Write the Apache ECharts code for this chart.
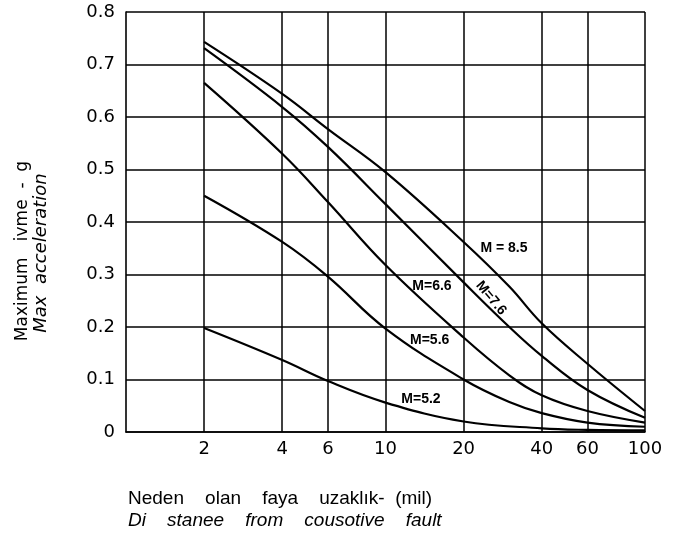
<!DOCTYPE html>
<html>
<head>
<meta charset="utf-8">
<script src="https://cdn.jsdelivr.net/npm/echarts@6/dist/echarts.min.js"></script>
<style>
html,body{margin:0;padding:0;background:#fff;}
#chart{width:674px;height:534px;}
</style>
</head>
<body>
<div id="chart"></div>
<script>
// Distance ticks (mil), log scale
const xTicks = [2, 4, 6, 10, 20, 40, 60, 100];
const yTicks = [0, 0.1, 0.2, 0.3, 0.4, 0.5, 0.6, 0.7, 0.8];

// Curves: distance (mil) and max acceleration (g)
const dist85 = [2, 4, 6, 10, 20, 30, 40, 60, 100];
const acc85  = [0.743, 0.644, 0.577, 0.495, 0.362, 0.277, 0.207, 0.13, 0.04];

const dist76 = [2, 4, 6, 10, 20, 30, 40, 60, 100];
const acc76  = [0.731, 0.619, 0.543, 0.434, 0.285, 0.20, 0.145, 0.08, 0.027];

const dist66 = [2, 4, 6, 10, 20, 30, 40, 60, 100];
const acc66  = [0.665, 0.53, 0.438, 0.318, 0.18, 0.108, 0.07, 0.04, 0.018];

const dist56 = [2, 4, 6, 10, 20, 30, 40, 60, 100];
const acc56  = [0.45, 0.362, 0.296, 0.197, 0.10, 0.057, 0.036, 0.018, 0.01];

const dist52 = [2, 4, 6, 10, 20, 40, 60, 100];
const acc52  = [0.198, 0.137, 0.097, 0.056, 0.02, 0.007, 0.004, 0.003];

// Curve labels: text, anchor (distance, g), rotation
const labelTexts = ['M = 8.5', 'M=7.6', 'M=6.6', 'M=5.6', 'M=5.2'];
const labelAt    = [[28.6, 0.350], [25.5, 0.255], [15.1, 0.278], [14.8, 0.175], [13.7, 0.063]];
const labelRot   = [0, -50, 0, 0, 0];

const curves = [
  {d: dist85, a: acc85},
  {d: dist76, a: acc76},
  {d: dist66, a: acc66},
  {d: dist56, a: acc56},
  {d: dist52, a: acc52}
];

const chart = echarts.init(document.getElementById('chart'), null, {renderer: 'canvas'});

const series = curves.map((c, i) => ({
  type: 'line',
  data: c.d.map((x, j) => [x, c.a[j]]),
  smooth: 0.4,
  showSymbol: false,
  symbol: 'none',
  lineStyle: {color: '#000', width: 2.2},
  silent: true,
  markPoint: {
    symbol: 'circle',
    symbolSize: 0,
    silent: true,
    label: {
      show: true,
      position: 'inside',
      formatter: labelTexts[i],
      color: '#000',
      fontFamily: 'Liberation Sans',
      fontWeight: 'bold',
      fontSize: 14,
      rotate: labelRot[i]
    },
    data: [{coord: labelAt[i]}]
  }
}));

const option = {
  animation: false,
  backgroundColor: '#fff',
  grid: {left: 126, right: 29, top: 12, bottom: 102},
  xAxis: {
    type: 'log',
    logBase: 10,
    min: 1,
    max: 100,
    axisLine: {show: true, lineStyle: {color: '#000', width: 1.6}},
    axisTick: {show: false, customValues: xTicks},
    axisLabel: {
      customValues: xTicks,
      color: '#000',
      fontSize: 18,
      fontFamily: 'DejaVu Sans',
      margin: 8
    },
    splitLine: {show: true, lineStyle: {color: '#000', width: 1.5}},
    minorTick: {show: false},
    minorSplitLine: {show: false}
  },
  yAxis: {
    type: 'value',
    min: 0,
    max: 0.8,
    interval: 0.1,
    axisLine: {show: true, lineStyle: {color: '#000', width: 1.6}},
    axisTick: {show: false},
    axisLabel: {
      color: '#000',
      fontSize: 18,
      fontFamily: 'DejaVu Sans',
      margin: 11,
      formatter: v => (Math.abs(v) < 1e-9 ? '0' : v.toFixed(1))
    },
    splitLine: {show: true, lineStyle: {color: '#000', width: 1.5}}
  },
  graphic: [
    {
      type: 'text', x: 23, y: 251, rotation: Math.PI / 2,
      style: {text: 'Maximum   ivme  -  g', fill: '#000', font: '17px "DejaVu Sans"', align: 'center', verticalAlign: 'middle'}
    },
    {
      type: 'text', x: 41, y: 253, rotation: Math.PI / 2,
      style: {text: 'Max  acceleration', fill: '#000', font: 'italic 18px "DejaVu Sans"', align: 'center', verticalAlign: 'middle'}
    },
    {
      type: 'text', x: 128, y: 499,
      style: {text: 'Neden    olan    faya    uzaklık-  (mil)', fill: '#000', font: '19px "Liberation Sans"', align: 'left', verticalAlign: 'middle'}
    },
    {
      type: 'text', x: 128, y: 521,
      style: {text: 'Di    stanee    from    cousotive    fault', fill: '#000', font: 'italic 19px "Liberation Sans"', align: 'left', verticalAlign: 'middle'}
    }
  ],
  series: series
};

chart.setOption(option);
</script>
</body>
</html>
